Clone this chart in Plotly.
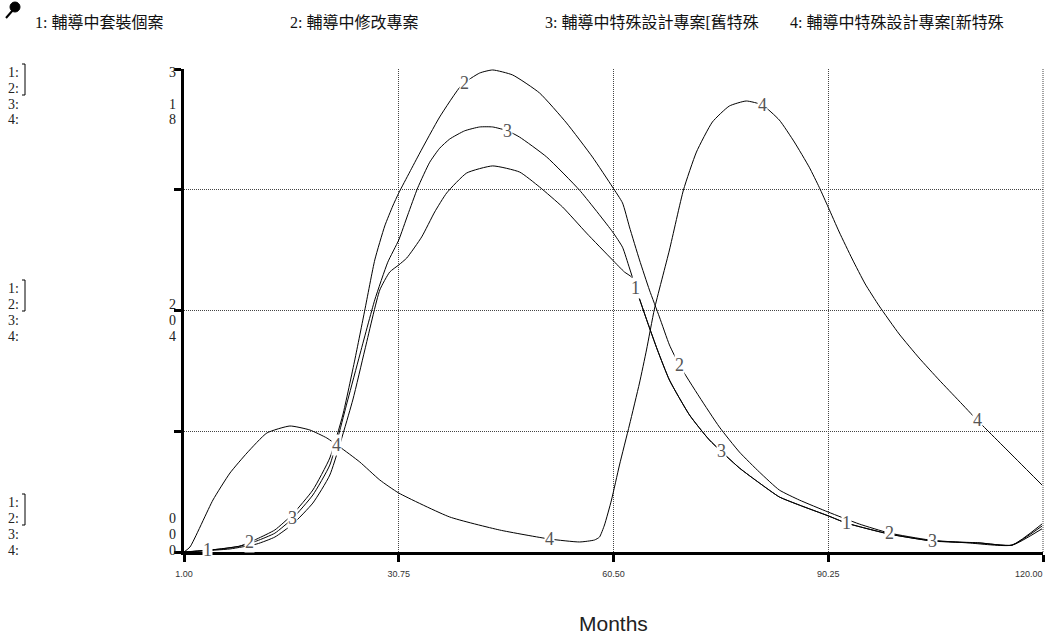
import numpy as np
import plotly.graph_objects as go

# ---- series data (months, value on each series' own scale) ----
months_1 = [1.00, 3.21, 7.37, 11.10, 13.59, 16.08, 18.85, 21.20, 24.38, 26.05, 28.12, 29.50,
            30.75, 31.86, 33.93, 35.73, 37.39, 40.16, 43.76, 47.49, 50.26, 53.44, 56.76,
            60.36, 62.02, 62.99, 63.82, 65.20, 66.59, 68.25, 71.02, 73.78, 77.94, 80.70,
            83.47, 86.24, 90.25, 92.74, 98.69, 104.64, 111.14, 115.71, 119.86]
vals_1 = [0.000, 0.006, 0.019, 0.050, 0.093, 0.174, 0.304, 0.478, 0.944, 1.255, 1.627, 1.739,
          1.783, 1.826, 1.957, 2.112, 2.230, 2.354, 2.398, 2.360, 2.267, 2.143, 1.981,
          1.814, 1.739, 1.708, 1.609, 1.429, 1.255, 1.068, 0.851, 0.696, 0.522, 0.429,
          0.342, 0.292, 0.224, 0.180, 0.112, 0.068, 0.056, 0.043, 0.161]

months_2 = [1.00, 3.21, 5.98, 8.75, 11.10, 13.59, 16.08, 18.85, 21.20, 23.00, 24.66, 26.05,
            27.43, 28.81, 29.92, 30.75, 32.27, 33.66, 36.42, 39.47, 41.96, 43.76, 46.52, 50.26,
            53.99, 57.59, 60.36, 61.75, 62.71, 64.10, 65.48, 66.86, 68.25, 69.63, 72.40, 75.17,
            77.94, 80.70, 83.47, 86.24, 90.25, 94.54, 98.69, 104.22, 109.76, 115.71, 119.86]
vals_2 = [0.000, 0.006, 0.019, 0.037, 0.081, 0.137, 0.236, 0.385, 0.584, 0.851, 1.193, 1.503,
          1.814, 2.025, 2.149, 2.230, 2.360, 2.478, 2.702, 2.901, 2.975, 2.994, 2.963, 2.851,
          2.665, 2.453, 2.267, 2.168, 2.019, 1.814, 1.627, 1.460, 1.286, 1.161, 0.963, 0.776,
          0.621, 0.497, 0.385, 0.323, 0.248, 0.174, 0.118, 0.075, 0.056, 0.043, 0.174]

months_3 = [1.00, 5.98, 8.75, 11.10, 13.59, 16.08, 18.85, 21.20, 23.69, 25.35, 27.43, 29.23,
            30.75, 32.00, 33.38, 35.04, 36.42, 37.81, 39.88, 41.96, 43.76, 45.83, 47.49,
            51.23, 55.80, 60.36, 61.75, 62.71, 63.82, 65.20, 66.59, 68.25, 71.02, 73.78,
            77.94, 80.70, 83.47, 86.24, 90.25, 92.74, 98.69, 104.64, 111.14, 115.71, 119.86]
vals_3 = [0.000, 0.006, 0.012, 0.023, 0.039, 0.070, 0.118, 0.180, 0.315, 0.408, 0.522, 0.600,
          0.646, 0.698, 0.754, 0.807, 0.836, 0.855, 0.872, 0.880, 0.880, 0.872, 0.859,
          0.818, 0.749, 0.663, 0.631, 0.588, 0.536, 0.476, 0.418, 0.356, 0.284, 0.232,
          0.174, 0.143, 0.114, 0.097, 0.075, 0.060, 0.037, 0.023, 0.019, 0.014, 0.048]

months_4 = [1.00, 1.83, 5.01, 7.37, 9.72, 12.48, 15.67, 18.43, 20.79, 22.59, 25.35, 28.12,
            30.75, 37.81, 44.73, 51.64, 55.80, 57.87, 58.56, 59.25, 60.22, 61.33, 62.71,
            64.10, 65.07, 66.17, 68.25, 70.19, 71.99, 74.20, 76.55, 78.90, 81.12, 83.47,
            85.55, 87.62, 89.00, 90.25, 91.77, 93.57, 95.37, 97.31, 100.07, 102.84, 105.61,
            108.38, 110.87, 113.91, 116.68, 119.86]
vals_4 = [0.000, 0.083, 0.861, 1.308, 1.640, 1.971, 2.087, 2.021, 1.888, 1.739, 1.491, 1.193,
          0.977, 0.580, 0.364, 0.215, 0.166, 0.199, 0.248, 0.447, 0.861, 1.441, 2.103,
          2.799, 3.346, 4.025, 5.002, 5.996, 6.625, 7.122, 7.387, 7.470, 7.404, 7.155,
          6.791, 6.373, 6.041, 5.710, 5.300, 4.853, 4.439, 4.074, 3.611, 3.213, 2.849,
          2.501, 2.186, 1.822, 1.491, 1.110]

series_names = ["輔導中套裝個案", "輔導中修改專案",
                "輔導中特殊設計專案[舊特殊", "輔導中特殊設計專案[新特殊"]

# months where each curve carries its number tag
tag_months = {
    1: [4.32, 63.54, 92.74],
    2: [10.13, 39.88, 69.63, 98.69],
    3: [16.08, 45.83, 75.45, 104.64],
    4: [22.17, 51.64, 81.12, 110.87],
}

# axis scales (top values) and tick labels
scale_top = {"y": 3, "y2": 1, "y3": 8}
x_ticks = [1.00, 30.75, 60.50, 90.25, 120.00]
x_tick_text = ["1.00", "30.75", "60.50", "90.25", "120.00"]

# ---- page geometry ----
W, H = 1045, 638
ML, MR, MT, MB = 184, 2, 69, 86
PW, PH = W - ML - MR, H - MT - MB


def paper_x(px):
    return (px - ML) / PW


def paper_y(py):
    return (H - MB - py) / PH


fig = go.Figure()

series = [
    (1, months_1, vals_1, "y"),
    (2, months_2, vals_2, "y"),
    (3, months_3, vals_3, "y2"),
    (4, months_4, vals_4, "y3"),
]

line_style = dict(color="black", width=1, shape="spline", smoothing=0.5)
for num, mx, vy, ax in series:
    fig.add_trace(go.Scatter(x=mx, y=vy, mode="lines", yaxis=ax, line=line_style,
                             name=f"{num}: {series_names[num - 1]}",
                             hoverinfo="skip", showlegend=False))

annotations = []
serif = "Liberation Serif, Times New Roman, serif"

# number tags sitting on the curves
for num, mx, vy, ax in series:
    for m in tag_months[num]:
        annotations.append(dict(
            x=m, y=float(np.interp(m, mx, vy)), xref="x", yref=ax,
            text=str(num), showarrow=False, bgcolor="white", borderpad=0,
            font=dict(family=serif, size=18, color="#555555"),
            xanchor="center", yanchor="middle"))

# header row with series names
header_x = [33, 288, 543, 788]
for i, name in enumerate(series_names):
    annotations.append(dict(
        x=paper_x(header_x[i]), y=paper_y(22), xref="paper", yref="paper",
        text=f"{i + 1}: {name}", showarrow=False, xanchor="left", yanchor="middle",
        font=dict(family="Liberation Serif, Noto Sans CJK TC", size=16, color="#111111")))

# scale blocks on the left: series numbers and scale values
blocks = [
    (72, {1: "3", 3: "1", 4: "8"}),
    (288, {2: "2", 3: "0", 4: "4"}),
    (502, {2: "0", 3: "0", 4: "0"}),
]
ROW = 16
for top, vals in blocks:
    for r in range(4):
        yy = top + ROW * r
        annotations.append(dict(
            x=paper_x(7), y=paper_y(yy), xref="paper", yref="paper", text=f"{r + 1}:",
            showarrow=False, xanchor="left", yanchor="middle", borderpad=0,
            font=dict(family=serif, size=14, color="#222222")))
        if (r + 1) in vals:
            annotations.append(dict(
                x=paper_x(177), y=paper_y(yy), xref="paper", yref="paper",
                text=vals[r + 1], showarrow=False, xanchor="right", yanchor="middle",
                borderpad=0, font=dict(family=serif, size=14, color="#222222")))

# last x tick label kept inside the page
annotations.append(dict(
    x=paper_x(1045), y=paper_y(574), xref="paper", yref="paper", text=x_tick_text[-1],
    showarrow=False, xanchor="right", yanchor="middle",
    font=dict(family="Liberation Sans, Arial", size=9, color="#333333")))

annotations.append(dict(
    x=0.5, y=paper_y(623), xref="paper", yref="paper", text="Months",
    showarrow=False, xanchor="center", yanchor="middle",
    font=dict(family="Liberation Sans, Arial", size=21, color="#222222")))

shapes = []
# brackets joining the shared scale of series 1 and 2
for top, _ in blocks:
    y0, y1 = paper_y(top - 8), paper_y(top + ROW + 7)
    xb, xt = paper_x(25), paper_x(22)
    shapes.append(dict(type="path", xref="paper", yref="paper",
                       path=f"M {xt},{y0} L {xb},{y0} L {xb},{y1} L {xt},{y1}",
                       line=dict(color="black", width=1)))

# dotted frame on the right edge of the plot
shapes.append(dict(type="line", xref="paper", yref="paper", x0=1, x1=1, y0=0, y1=1,
                   line=dict(color="#444444", width=1, dash="1px,1px")))

# pin icon before the header
shapes.append(dict(type="line", xref="paper", yref="paper",
                   x0=paper_x(6), y0=paper_y(18), x1=paper_x(13), y1=paper_y(10),
                   line=dict(color="black", width=2)))
shapes.append(dict(type="circle", xref="paper", yref="paper",
                   x0=paper_x(10), x1=paper_x(20), y0=paper_y(2), y1=paper_y(12),
                   fillcolor="black", line=dict(color="black", width=1)))

grid = dict(showgrid=True, gridcolor="#444444", gridwidth=1, griddash="1px,1px")

fig.update_layout(
    width=W, height=H,
    margin=dict(l=ML, r=MR, t=MT, b=MB),
    paper_bgcolor="white", plot_bgcolor="white",
    xaxis=dict(range=[1, 120], tickmode="array", tickvals=x_ticks,
               ticktext=x_tick_text[:-1] + [""],
               ticks="outside", ticklen=7, tickwidth=3, tickcolor="black",
               ticklabelstandoff=4,
               showline=True, linewidth=3, linecolor="black", zeroline=False,
               tickfont=dict(family="Liberation Sans, Arial", size=9, color="#333333"),
               fixedrange=True, **grid),
    yaxis=dict(range=[0, scale_top["y"]], tickmode="array",
               tickvals=[scale_top["y"] * k / 4 for k in range(5)],
               ticks="outside", ticklen=7, tickwidth=3, tickcolor="black",
               showticklabels=False, showline=True, linewidth=3, linecolor="black",
               zeroline=False, fixedrange=True, **grid),
    yaxis2=dict(range=[0, scale_top["y2"]], overlaying="y", visible=False, fixedrange=True),
    yaxis3=dict(range=[0, scale_top["y3"]], overlaying="y", visible=False, fixedrange=True),
    annotations=annotations,
    shapes=shapes,
    showlegend=False,
)

fig.write_html("out.html")
